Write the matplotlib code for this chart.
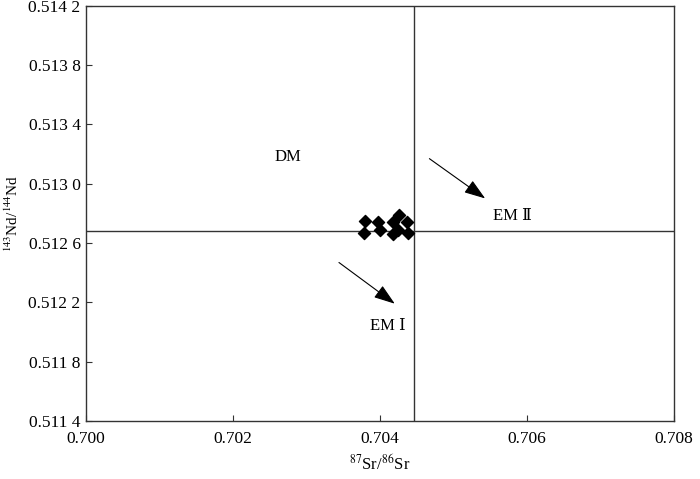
import matplotlib
matplotlib.use('Agg')
import matplotlib.pyplot as plt

plt.rcParams['font.family'] = ['Liberation Serif', 'DejaVu Serif']
plt.rcParams['mathtext.fontset'] = 'stix'

# data
sr = [0.70380, 0.70378, 0.70397, 0.70400, 0.70418, 0.70426, 0.70418, 0.70425, 0.70437, 0.70438]
nd = [0.51275, 0.51267, 0.51274, 0.51269, 0.51274, 0.51279, 0.51266, 0.51269, 0.51274, 0.51267]

x_ticks = [0.700, 0.702, 0.704, 0.706, 0.708]
x_labels = ['0.700', '0.702', '0.704', '0.706', '0.708']
y_ticks = [0.5114, 0.5118, 0.5122, 0.5126, 0.5130, 0.5134, 0.5138, 0.5142]
y_labels = ['0.511 4', '0.511 8', '0.512 2', '0.512 6', '0.513 0', '0.513 4', '0.513 8', '0.514 2']

sr_div = 0.70446
nd_div = 0.51268

fig = plt.figure(figsize=(7, 4.79), dpi=100)
ax = fig.add_axes([0.123, 0.121, 0.840, 0.867])

ax.axhline(nd_div, color='#333333', lw=1)
ax.axvline(sr_div, color='#333333', lw=1)

ax.scatter(sr, nd, marker='D', s=38, color='black', zorder=3)

ax.text(0.70275, 0.51318, 'DM', fontsize=12, ha='center', va='center')
ax.text(0.70580, 0.51278, 'EM Ⅱ', fontsize=12, ha='center', va='center')
ax.text(0.70411, 0.51204, 'EM Ⅰ', fontsize=12, ha='center', va='center')

arrow = dict(arrowstyle='-|>,head_length=1.3,head_width=0.45', color='black', lw=0.8)
ax.annotate('', xy=(0.70546, 0.51289), xytext=(0.70464, 0.51318), arrowprops=arrow)
ax.annotate('', xy=(0.70423, 0.51218), xytext=(0.70341, 0.51248), arrowprops=arrow)

ax.set_xlim(0.700, 0.708)
ax.set_ylim(0.5114, 0.5142)
ax.set_xticks(x_ticks)
ax.set_xticklabels(x_labels)
ax.set_yticks(y_ticks)
ax.set_yticklabels(y_labels)
ax.tick_params(direction='in', length=4, labelsize=12.5, color='#333333')
ax.tick_params(axis='x', pad=7)
ax.tick_params(axis='y', pad=4)
for s in ax.spines.values():
    s.set_color('#333333')
    s.set_linewidth(1)

# axis titles placed in figure coords
fig.text(380 / 700, 1 - 464 / 479, r'$^{87}$Sr/$^{86}$Sr', fontsize=12, ha='center', va='center')
fig.text(12 / 700, 1 - 213 / 479, r'$^{143}$Nd/$^{144}$Nd', fontsize=11, rotation=90,
         ha='center', va='center')

fig.savefig('out.png', dpi=100)
